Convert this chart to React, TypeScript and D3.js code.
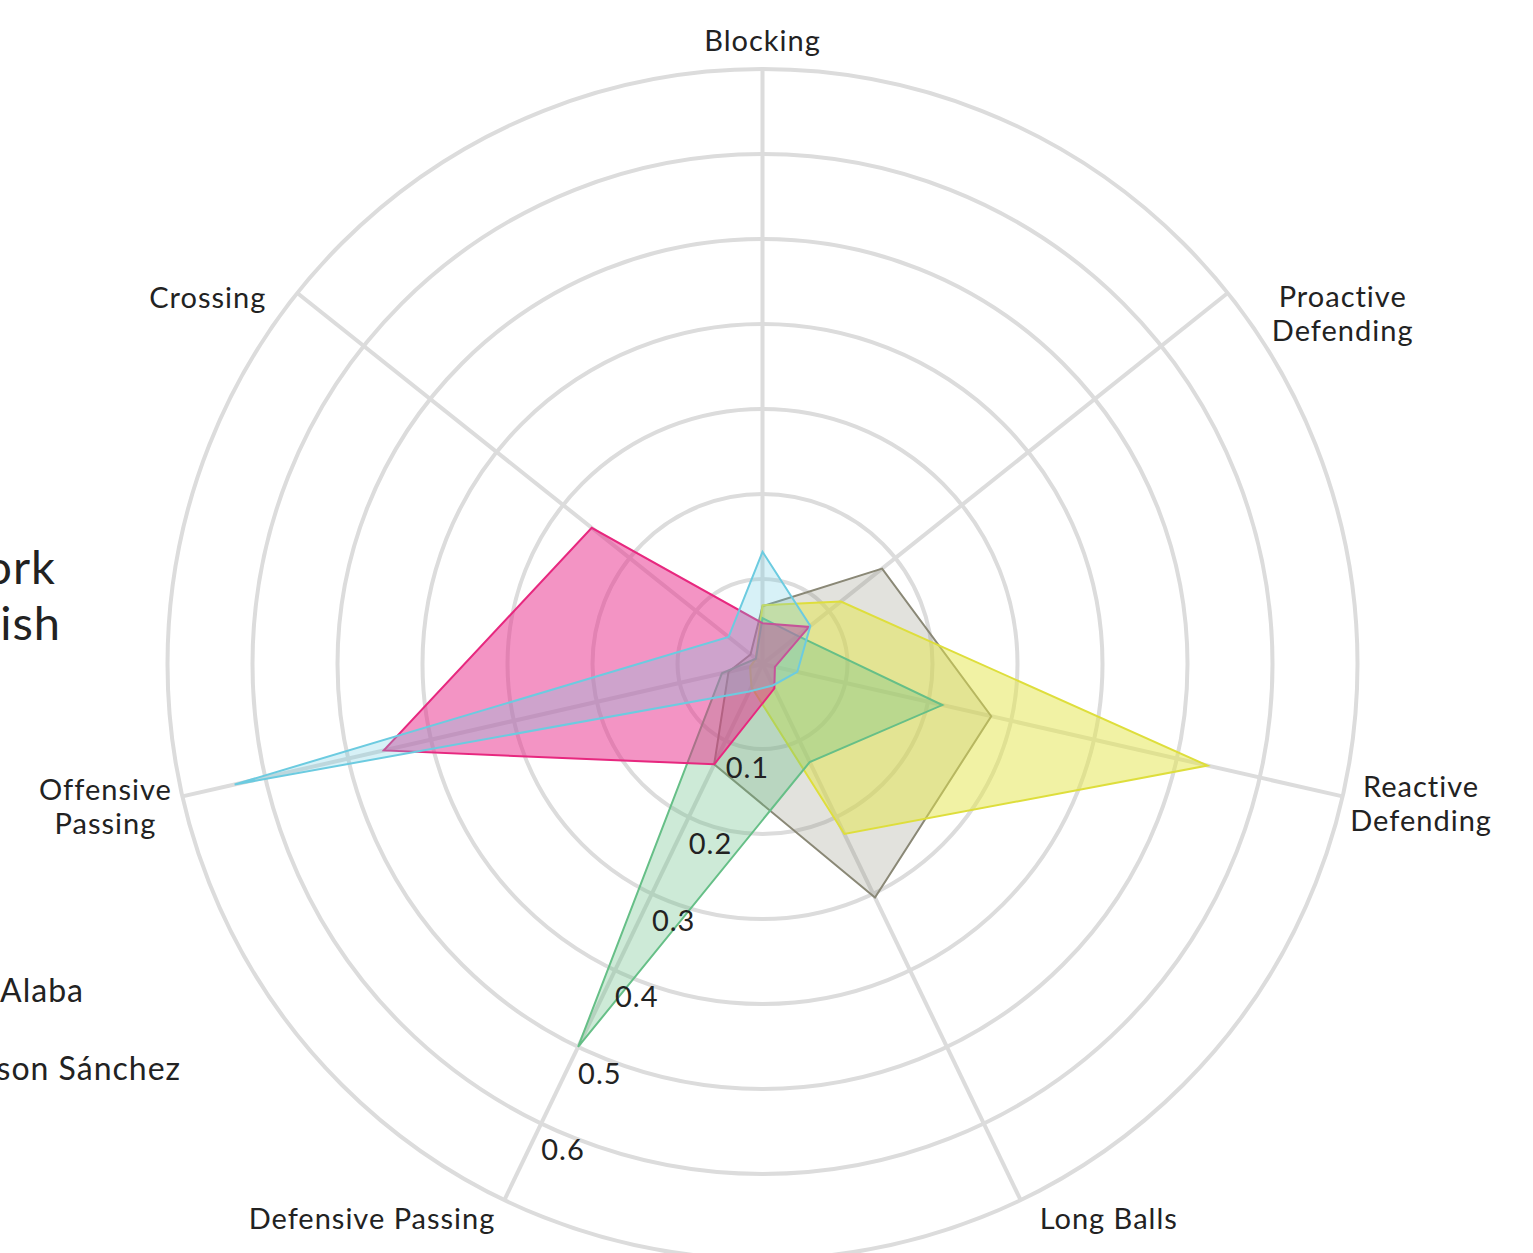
import * as d3 from "d3";

// axes, clockwise from the top
const axisNames = [
  "Blocking",
  "Proactive Defending",
  "Reactive Defending",
  "Long Balls",
  "Defensive Passing",
  "Offensive Passing",
  "Crossing",
];

// one value per axis, same order as axisNames
const grayValues = [0.068, 0.18, 0.276, 0.305, 0.131, 0.041, 0.018];
const yellowValues = [0.069, 0.118, 0.537, 0.222, 0.03, 0.015, 0.01];
const greenValues = [0.054, 0.053, 0.217, 0.128, 0.5, 0.049, 0.01];
const pinkValues = [0.048, 0.07, 0.015, 0.032, 0.131, 0.457, 0.257];
const cyanValues = [0.132, 0.072, 0.042, 0.028, 0.036, 0.637, 0.051];

const tickValues = [0.1, 0.2, 0.3, 0.4, 0.5, 0.6];
const legendNames = ["David Alaba", "Davinson Sánchez"];
const titleLines = ["Defensive Work", "English"];

const series = [
  { key: "gray", values: grayValues, stroke: "#8a8876", fill: "#8c8a78", op: 0.25 },
  { key: "yellow", values: yellowValues, stroke: "#dede3c", fill: "#e3e64a", op: 0.5 },
  { key: "green", values: greenValues, stroke: "#66bf87", fill: "#66bf87", op: 0.33 },
  { key: "pink", values: pinkValues, stroke: "#e7287f", fill: "#e7298a", op: 0.5 },
  { key: "cyan", values: cyanValues, stroke: "#6ccbe0", fill: "#6ccbe0", op: 0.27 },
];

// label placement relative to the end of each axis
const labelLayout = [
  { anchor: "middle", dx: 0, dy: -16.5 },
  { anchor: "middle", dx: 115, dy: 15.5 },
  { anchor: "middle", dx: 78.5, dy: 2 },
  { anchor: "start", dx: 19, dy: 30 },
  { anchor: "end", dx: -9, dy: 30 },
  { anchor: "middle", dx: -77, dy: 5 },
  { anchor: "end", dx: -31, dy: 16.5 },
];

const W = 1533;
const H = 1253;
const cx = 762.5;
const cy = 664;
const R = 595;
const FONT = "Lato, 'Open Sans', sans-serif";
const INK = "#222";
const GRID = "#dcdcdc";

export default function App() {
  const n = axisNames.length;
  const r = d3.scaleLinear().domain([0, 0.7]).range([0, R]);
  const angle = (i: number) => (i * 2 * Math.PI) / n;
  const pt = (i: number, rad: number) => [
    rad * Math.sin(angle(i)),
    -rad * Math.cos(angle(i)),
  ];

  const rings = r.ticks(7).filter((t) => t > 0);

  const radial = d3
    .lineRadial<number>()
    .angle((_, i) => angle(i))
    .radius((d) => r(d))
    .curve(d3.curveLinearClosed);

  const fmt = d3.format(".1f");

  return (
    <svg
      width={W}
      height={H}
      style={{ position: "absolute", left: 0, top: 0, display: "block" }}
    >
      <rect width={W} height={H} fill="#fff" />

      {/* title, mostly outside the frame */}
      <g fontFamily={FONT} fill={INK} fontSize={47} letterSpacing={1}>
        <text x={56} y={584} textAnchor="end">
          {titleLines[0]}
        </text>
        <text x={61} y={640} textAnchor="end">
          {titleLines[1]}
        </text>
      </g>

      {/* legend, mostly outside the frame */}
      <g fontFamily={FONT} fill={INK} fontSize={32} letterSpacing={1}>
        <text x={84} y={1002} textAnchor="end">
          {legendNames[0]}
        </text>
        <text x={181} y={1080} textAnchor="end">
          {legendNames[1]}
        </text>
      </g>

      <g transform={`translate(${cx},${cy})`}>
        {rings.map((t) => (
          <circle key={t} r={r(t)} fill="none" stroke={GRID} strokeWidth={4} />
        ))}
        {axisNames.map((name, i) => {
          const [x, y] = pt(i, R);
          return (
            <line key={name} x1={0} y1={0} x2={x} y2={y} stroke={GRID} strokeWidth={4} />
          );
        })}

        {series.map((s) => (
          <path
            key={s.key}
            d={radial(s.values) || ""}
            fill={s.fill}
            fillOpacity={s.op}
            stroke={s.stroke}
            strokeWidth={2}
            strokeLinejoin="miter"
          />
        ))}

        {/* tick labels along Defensive Passing axis */}
        <g fontFamily={FONT} fill={INK} fontSize={29} letterSpacing={1}>
          {tickValues.map((t) => {
            const [x, y] = pt(4, r(t));
            return (
              <text key={t} x={x} y={y + 37} textAnchor="start">
                {fmt(t)}
              </text>
            );
          })}
        </g>

        {/* axis labels */}
        <g fontFamily={FONT} fill={INK} fontSize={29} letterSpacing={1}>
          {axisNames.map((name, i) => {
            const [x, y] = pt(i, R);
            const lay = labelLayout[i];
            const lines =
              Math.abs(Math.cos(angle(i))) > 0.8 ? [name] : name.split(" ");
            return (
              <text
                key={name}
                x={x + lay.dx}
                y={y + lay.dy - 1.5}
                textAnchor={lay.anchor}
              >
                {lines.map((l, j) => (
                  <tspan key={j} x={x + lay.dx} dy={j === 0 ? 0 : 34}>
                    {l}
                  </tspan>
                ))}
              </text>
            );
          })}
        </g>
      </g>
    </svg>
  );
}
